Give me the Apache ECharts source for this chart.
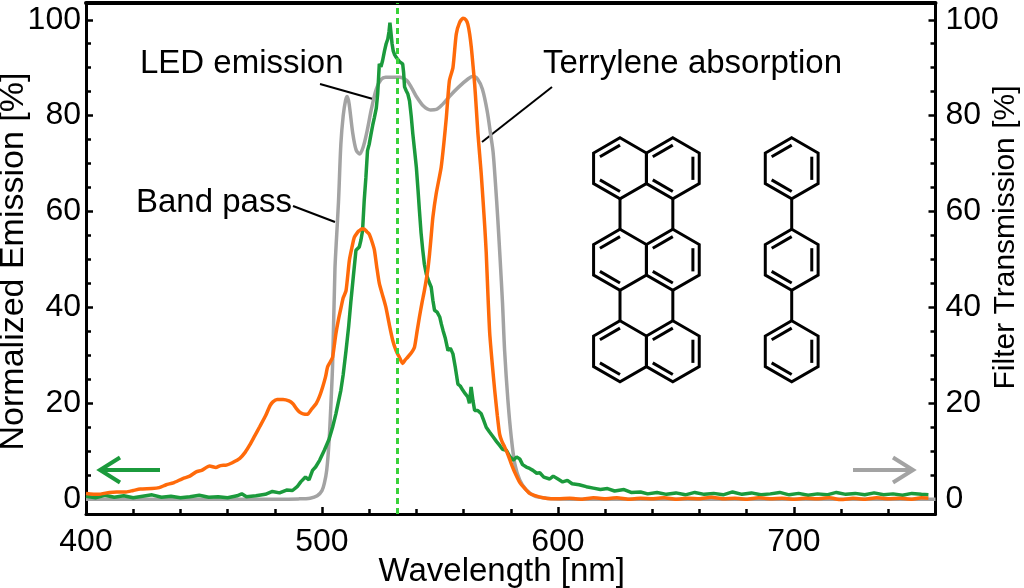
<!DOCTYPE html>
<html>
<head>
<meta charset="utf-8">
<title>LED emission / band pass / terrylene absorption</title>
<script src="https://cdn.jsdelivr.net/npm/echarts@6/dist/echarts.min.js"></script>
<style>
  html, body { margin: 0; padding: 0; background: #fff; }
  #main { width: 1024px; height: 588px; }
</style>
</head>
<body>
<div id="main"></div>
<script>
// ---- data ----
// band pass filter transmission (gray, right axis)
var bandNm  = [400, 450, 480, 490, 495, 498, 500, 501, 502, 503, 504, 504.5, 505.5, 506, 507, 508, 509, 510, 510.7, 511.5, 513, 514.5, 516, 517.5, 519, 521, 523, 525, 527, 533, 536, 538, 540, 543, 546, 548.5, 551, 554, 558, 562, 564, 566, 568, 570, 571.5, 572.5, 573.5, 574.5, 575.5, 576.5, 577.4, 578.8, 580.2, 581.7, 583.8, 586.6, 590, 595, 600, 620, 760];
var bandVal = [0, 0, 0, 0.05, 0.2, 0.7, 1.8, 3.3, 6, 12, 22, 28, 48, 53, 62, 74, 80, 83.2, 84, 82.5, 76.5, 72.8, 72, 73.5, 76.5, 81.5, 85.5, 87.5, 88, 88, 87.3, 85.8, 84, 82, 81.2, 81.3, 82.3, 84, 86, 87.7, 88.2, 87.6, 85.5, 81, 76, 72.5, 66, 58.5, 50, 41, 31, 20.6, 13, 7.4, 4, 1.9, 0.7, 0.2, 0.05, 0, 0];

// LED emission (green, left axis)
var ledNm  = [400, 404, 408, 412, 416, 420, 424, 428, 432, 436, 440, 444, 448, 452, 456, 460, 464, 466, 468, 472, 476, 479, 482, 485, 487.5, 489.5, 491, 493, 494.5, 496, 497.3, 499, 501, 503, 504.5, 505.9, 508, 509, 510.2, 511.3, 512.3, 513.3, 514.4, 515.2, 515.8, 516.5, 517.2, 517.9, 518.6, 519.3, 520, 520.8, 521.5, 522.2, 523, 523.6, 524, 524.3, 525, 525.7, 526.5, 527.2, 527.9, 528.4, 528.8, 529.3, 529.7, 530.2, 530.7, 531.4, 532.1, 533, 533.5, 534.2, 534.6, 535, 535.7, 536.4, 537.1, 537.8, 538.5, 539.2, 540, 540.7, 541.3, 542, 542.7, 543.4, 544.2, 545.2, 546.3, 547, 547.7, 548.8, 549.9, 550.6, 551.3, 552.3, 553.4, 554.4, 555.5, 556.5, 557.6, 558.6, 559.7, 560.7, 561.8, 562.5, 563.2, 564, 564.7, 566, 567.5, 568.5, 569.6, 571, 572.5, 574, 575.3, 576.5, 578.1, 579.5, 581, 582.5, 583.8, 585, 586.6, 588, 589.4, 591, 592.3, 594, 596.5, 598, 600, 602, 604, 606, 609, 612, 615, 618, 621, 624, 628, 631, 635, 638, 642, 646, 650, 654, 658, 662, 666, 670, 674, 678, 682, 686, 690, 694, 698, 702, 706, 710, 714, 718, 722, 726, 730, 734, 738, 742, 746, 750, 754, 757];
var ledVal = [0.6, 0.3, 0.8, 0.4, 0.7, 0.3, 0.6, 0.9, 0.4, 0.6, 0.3, 0.5, 0.8, 0.4, 0.5, 0.3, 0.7, 1.1, 0.5, 0.7, 1.0, 1.6, 1.3, 1.9, 1.8, 2.6, 3.6, 4.6, 4.0, 6.0, 6.7, 8.1, 10.2, 12.5, 15, 17.8, 22.7, 26, 31, 36, 41.5, 46.5, 51.9, 52.3, 52.6, 54, 56, 62.3, 67, 72.7, 74, 76.2, 78, 79.6, 81.5, 84.5, 88, 90.8, 90.2, 91.5, 93.5, 95, 96, 97.5, 99.4, 97, 95, 93.5, 92.8, 92.2, 91.8, 91.2, 91.5, 90.8, 89, 86, 85.2, 84.5, 83.1, 80, 76.2, 73, 69.2, 64.5, 60.2, 55.5, 52, 49, 47, 45.5, 44.2, 41.5, 39.4, 39, 38, 36.5, 35.2, 33.5, 31, 31.5, 30.3, 27.5, 24, 23.6, 22.7, 22, 21.3, 20, 23.4, 20.5, 18.5, 18.5, 17.8, 16.5, 15, 14, 13, 12, 11.2, 10.4, 10.2, 9, 8.1, 8.8, 8.4, 7.2, 6.7, 6.4, 6.0, 5.4, 5.5, 4.6, 4.2, 4.8, 4.2, 3.6, 3.9, 3.2, 3.0, 2.6, 2.3, 2.0, 2.2, 1.7, 2.0, 1.4, 1.5, 1.1, 1.4, 1.0, 1.3, 0.9, 1.4, 1.0, 1.2, 0.9, 1.5, 1.0, 1.3, 0.9, 1.1, 1.4, 0.9, 1.2, 0.8, 1.1, 0.9, 1.4, 1.0, 1.2, 0.9, 1.3, 0.9, 1.1, 0.8, 1.2, 1.0, 0.9];

// terrylene absorption (orange, left axis)
var terNm  = [400, 405, 410, 413, 417, 420, 423, 428, 431, 434, 437, 441, 444, 446.7, 449, 452.4, 455, 457, 459.5, 462, 465.2, 467.5, 469.4, 471.5, 473.6, 476.2, 478, 479.2, 481, 483.5, 486, 487.7, 489, 490.4, 492, 493.9, 495.5, 497.5, 499, 500.3, 501.5, 502.4, 503.5, 504.5, 505.9, 507, 508.1, 509, 510.2, 511.6, 512.7, 513.7, 515, 515.8, 517, 518, 519, 520, 521, 522.2, 523.2, 524.3, 525.7, 527.1, 528.5, 530, 531.4, 532.8, 534.2, 535.2, 536.3, 537.8, 539.2, 540.3, 541.3, 542.4, 543.4, 544.8, 545.6, 546.3, 547, 548.4, 550.5, 551.6, 552.7, 554, 555.5, 556.9, 558.3, 559.7, 561, 561.8, 562.6, 563.3, 564, 564.7, 565.4, 566.1, 566.8, 567.5, 568.3, 569, 569.6, 570.3, 571.1, 572.2, 573.2, 574.3, 575.3, 576.3, 577.4, 578.8, 580.2, 581.5, 583.8, 586, 588, 590, 593.7, 597, 600, 605, 610, 615, 620, 625, 630, 635, 640, 645, 650, 655, 660, 665, 670, 675, 680, 685, 690, 695, 700, 705, 710, 715, 720, 725, 730, 735, 740, 745, 750, 754, 757];
var terVal = [1.2, 1.0, 1.4, 1.5, 1.5, 1.8, 2.1, 2.2, 2.4, 3.0, 3.4, 4.3, 4.8, 5.7, 6.0, 6.9, 6.6, 7.0, 7.1, 7.6, 8.5, 9.8, 11.3, 13.2, 15.1, 17.5, 19.5, 20.3, 20.8, 20.8, 20.5, 19.9, 19, 18.2, 17.8, 17.7, 18.7, 19.9, 21.5, 23.4, 25.5, 27.6, 28.6, 29.6, 34.5, 37.5, 40, 42, 43.5, 49.8, 52.5, 54.6, 55.6, 56, 56.4, 56.3, 55.8, 55.3, 54, 52, 48.5, 45, 42.5, 40, 36.5, 33.1, 31, 29.6, 28.3, 29, 29.6, 30.5, 31.7, 35, 38, 41, 43.5, 47.7, 51.2, 55, 58.8, 63.7, 69.2, 74, 79.6, 87.3, 90, 97, 99.4, 100.3, 100, 99.1, 97, 94.2, 90.5, 86.6, 81.5, 76.2, 72, 67.8, 62, 56.7, 51.5, 43, 34.5, 28, 22.7, 17.5, 13.5, 12, 10.9, 9.3, 7.4, 5.8, 3.5, 2.2, 1.2, 0.8, 0.3, 0.1, 0.1, 0.2, 0, 0.3, 0.1, 0.3, 0, 0.2, 0.1, 0.3, 0, 0.2, 0.1, 0.4, 0.1, 0.2, 0, 0.3, 0.1, 0.2, 0, 0.2, 0.1, 0.3, -0.1, 0.2, 0, 0.3, 0.1, 0.2, 0, 0.3, 0.2];

var laserNm = 532;
var xMajor = [400, 500, 600, 700];
var xMinor = [420, 440, 460, 480, 520, 540, 560, 580, 620, 640, 660, 680, 720, 740];
var yMajor = [0, 20, 40, 60, 80, 100];
var yMinor = [5, 10, 15, 25, 30, 35, 45, 50, 55, 65, 70, 75, 85, 90, 95];

function zip(xs, ys) {
  var out = [];
  for (var i = 0; i < xs.length; i++) out.push([xs[i], ys[i]]);
  return out;
}

var FONT = '"Liberation Sans", Arial, Helvetica, sans-serif';
var GRAY = '#a3a3a3', GREEN = '#1b9a3c', ORANGE = '#ff6a0a';

// ---- molecule drawings (decoration) ----
function hexagon(cx, cy, r, doubles) {
  var pts = [], els = [];
  for (var i = 0; i < 6; i++) {
    var a = (-90 + 60 * i) * Math.PI / 180;
    pts.push([cx + r * Math.cos(a), cy + r * Math.sin(a)]);
  }
  els.push({ type: 'polygon', shape: { points: pts },
    style: { fill: 'none', stroke: '#000', lineWidth: 3, lineJoin: 'miter' } });
  doubles.forEach(function (e) {
    var p = pts[e], q = pts[(e + 1) % 6], k = 0.24;
    els.push({ type: 'line', shape: {
      x1: p[0] + (cx - p[0]) * k, y1: p[1] + (cy - p[1]) * k,
      x2: q[0] + (cx - q[0]) * k, y2: q[1] + (cy - q[1]) * k },
      style: { stroke: '#000', lineWidth: 3 } });
  });
  return els;
}
function bond(x, y1, y2) {
  return { type: 'line', shape: { x1: x, y1: y1, x2: x, y2: y2 }, style: { stroke: '#000', lineWidth: 3 } };
}

var R = 30.5, HW = R * Math.sqrt(3) / 2;
var rows = [168.3, 259.8, 351.3];
var colL = 620, colR = 620 + 2 * HW, colP = 791.7;
var mol = [];
rows.forEach(function (cy, i) {
  mol = mol.concat(hexagon(colL, cy, R, [5, 3]));
  mol = mol.concat(hexagon(colR, cy, R, [5, 1, 3]));
  mol = mol.concat(hexagon(colP, cy, R, [5, 1, 3]));
  if (i > 0) {
    var y1 = rows[i - 1] + R, y2 = cy - R;
    mol.push(bond(colL, y1, y2), bond(colR, y1, y2), bond(colP, y1, y2));
  }
});

function label(txt, x, y) {
  return { type: 'text', x: x, y: y, silent: true,
    style: { text: txt, font: '33px ' + FONT, fill: '#000', textAlign: 'left', textVerticalAlign: 'middle' } };
}
function leader(x1, y1, x2, y2) {
  return { type: 'line', silent: true, shape: { x1: x1, y1: y1, x2: x2, y2: y2 }, style: { stroke: '#000', lineWidth: 2 } };
}
function arrow(x1, x2, y, color) {
  var dir = x2 > x1 ? -1 : 1;
  return [
    { type: 'line', shape: { x1: x1, y1: y, x2: x2, y2: y }, style: { stroke: color, lineWidth: 4 } },
    { type: 'polyline', shape: { points: [[x2 + dir * 20, y - 12.5], [x2, y], [x2 + dir * 20, y + 12.5]] },
      style: { stroke: color, lineWidth: 4, fill: 'none' } }
  ];
}

var graphics = [
  label('LED emission', 140, 64),
  label('Band pass', 136, 203),
  label('Terrylene absorption', 543, 64),
  leader(320, 84, 373, 99),
  leader(293, 206, 335, 222),
  leader(552, 87, 482, 142)
].concat(arrow(160, 100, 470, GREEN))
 .concat(arrow(853, 913, 470, GRAY))
 .concat(mol);

var yMin = -3.1, yMax = 103.5;
var tickLabel = { fontFamily: FONT, fontSize: 32, color: '#000' };

function yAxis(pos, ticks, len, withLabels, name) {
  var left = pos === 'left';
  return {
    type: 'value', position: pos, min: yMin, max: yMax,
    name: name || '', nameLocation: 'middle', nameMoveOverlap: false,
    nameGap: left ? 55 : 55,
    nameRotate: 90,
    nameTextStyle: { fontFamily: FONT, fontSize: left ? 34 : 30, color: '#000',
      padding: left ? [0, 6, 0, 0] : [0, 0, 0, 42] },
    axisLine: { show: withLabels, lineStyle: { color: '#000', width: 3 } },
    axisTick: { show: true, inside: true, length: len, customValues: ticks, lineStyle: { color: '#000', width: 2.5 } },
    axisLabel: withLabels ? Object.assign({ show: true, customValues: ticks, margin: left ? 5 : 10 }, tickLabel) : { show: false },
    splitLine: { show: false }
  };
}

var chart = echarts.init(document.getElementById('main'), null, { renderer: 'canvas' });
chart.setOption({
  animation: false,
  backgroundColor: '#fff',
  grid: { left: 86, right: 88.5, top: 3, bottom: 74, outerBoundsMode: 'none' },
  xAxis: [
    {
      type: 'value', position: 'bottom', min: 400, max: 760,
      name: 'Wavelength [nm]', nameLocation: 'middle', nameGap: 41, nameMoveOverlap: false,
      nameTextStyle: { fontFamily: FONT, fontSize: 33, color: '#000', padding: [0, 18, 0, 0] },
      axisLine: { onZero: false, lineStyle: { color: '#000', width: 3 } },
      axisTick: { inside: true, length: 7, customValues: xMajor, lineStyle: { color: '#000', width: 2.5 } },
      axisLabel: Object.assign({ customValues: xMajor, margin: 12 }, tickLabel),
      splitLine: { show: false }
    },
    {
      type: 'value', position: 'bottom', min: 400, max: 760,
      axisLine: { show: false, onZero: false },
      axisTick: { inside: true, length: 5, customValues: xMinor, lineStyle: { color: '#000', width: 2.5 } },
      axisLabel: { show: false }, splitLine: { show: false }
    },
    {
      type: 'value', position: 'top', min: 400, max: 760,
      axisLine: { onZero: false, lineStyle: { color: '#000', width: 4 } },
      axisTick: { show: false }, axisLabel: { show: false }, splitLine: { show: false }
    }
  ],
  yAxis: [
    yAxis('left', yMajor, 7, true, 'Normalized Emission [%]'),
    yAxis('left', yMinor, 5, false),
    yAxis('right', yMajor, 7, true, 'Filter Transmission [%]'),
    yAxis('right', yMinor, 5, false)
  ],
  series: [
    {
      name: 'Band pass', type: 'line', xAxisIndex: 0, yAxisIndex: 2,
      data: zip(bandNm, bandVal), symbol: 'none', smooth: 0.3, silent: true,
      lineStyle: { color: GRAY, width: 3.5 },
      markLine: {
        silent: true, symbol: ['none', 'none'], label: { show: false },
        lineStyle: { color: '#3ad23a', width: 3, type: [6, 4] },
        data: [{ xAxis: laserNm }]
      }
    },
    {
      name: 'LED emission', type: 'line', xAxisIndex: 0, yAxisIndex: 0,
      data: zip(ledNm, ledVal), symbol: 'none', silent: true,
      lineStyle: { color: GREEN, width: 3.5 }
    },
    {
      name: 'Terrylene absorption', type: 'line', xAxisIndex: 0, yAxisIndex: 0,
      data: zip(terNm, terVal), symbol: 'none', smooth: 0.2, silent: true,
      lineStyle: { color: ORANGE, width: 3.5 }
    }
  ],
  graphic: graphics
});
</script>
</body>
</html>
